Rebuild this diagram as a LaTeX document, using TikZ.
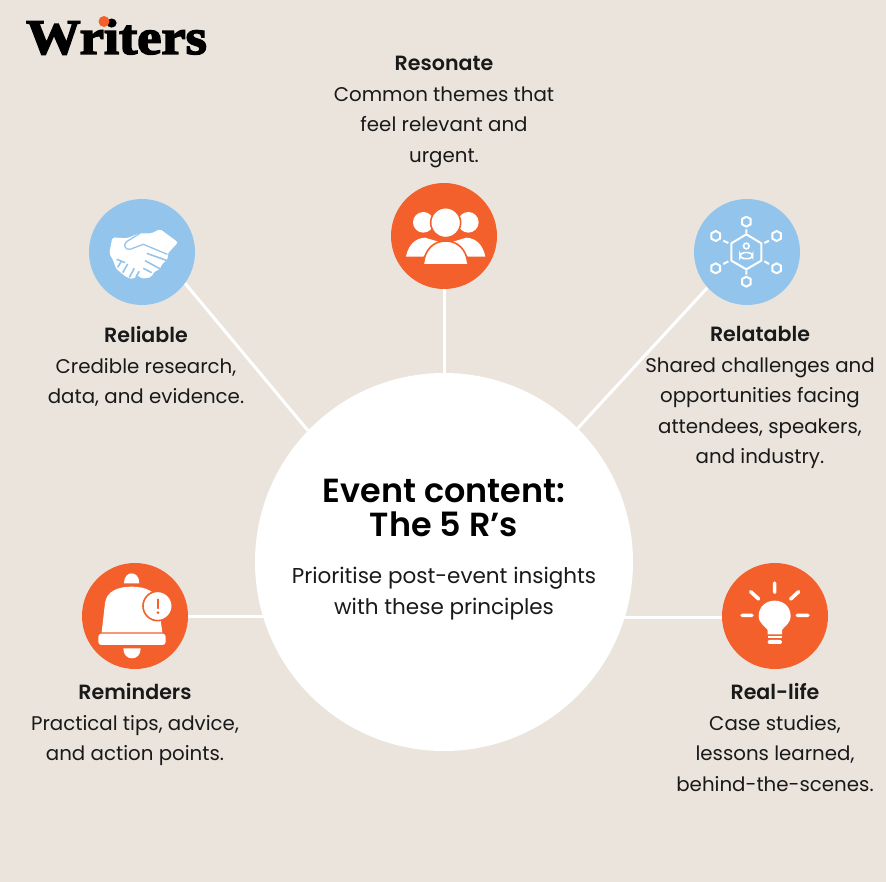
\documentclass[tikz,border=0pt]{standalone}
\usepackage{fontspec}
\setmainfont{Poppins}[BoldFont={Poppins SemiBold}]
\newfontfamily\logofont[FakeBold=3]{Liberation Serif Bold}
\definecolor{bg}{HTML}{EAE4DC}
\definecolor{org}{HTML}{F4602B}
\definecolor{sky}{HTML}{93C5EC}
\pgfdeclarelayer{bgl}
\pgfdeclarelayer{links}
\pgfsetlayers{bgl,links,main}
\newcommand{\hd}[1]{{\fontsize{20.6}{30.5}\selectfont\bfseries #1}}
\tikzset{
 hubnode/.style={circle,fill=white,minimum size=378pt,inner sep=0pt},
 iconorg/.style={circle,fill=org,minimum size=106pt,inner sep=0pt},
 iconsky/.style={circle,fill=sky,minimum size=106pt,inner sep=0pt},
 link/.style={draw=white,line width=3pt},
 body/.style={anchor=north,align=center,font=\fontsize{19.8}{30.5}\selectfont,text=black!90,inner sep=0pt},
 icn/.style={x=0.3333pt,y=-0.3333pt},
}
\begin{document}
\begin{tikzpicture}[x=1pt,y=-1pt]
\begin{pgfonlayer}{bgl}
\fill[bg] (0,0) rectangle (886,882);
\end{pgfonlayer}
\useasboundingbox (0,0) rectangle (886,882);
\node[hubnode] (hub) at (444,562) {};
\node[iconorg] (resonate) at (444,236) {};
\node[iconsky] (reliable) at (142,252) {};
\node[iconsky] (relatable) at (747,252) {};
\node[iconorg] (reminders) at (135,616) {};
\node[iconorg] (reallife) at (775,616) {};
\begin{pgfonlayer}{links}
\draw[link] (resonate) -- (hub);
\draw[link] (reliable.-36) -- (hub.136);
\draw[link] (relatable.-138) -- (hub.45);
\draw[link] (reminders) -- (reminders -| hub);
\draw[link] (reallife.182) -- (reallife.182 -| hub);
\end{pgfonlayer}
% logo
\node[anchor=base west,inner sep=0pt,xscale=1.09,font=\logofont\fontsize{50}{50}\selectfont,text=black] (logo) at (26,54) {Writers};
\fill[org] (104,21.5) circle (5.5);
% people
\begin{scope}[shift={(380,175)},icn]
\fill[white] (78,245) .. controls (85,210) and (105,190) .. (135,188) -- (175,200) -- (130,245) -- cycle;
\fill[white] (316,245) .. controls (309,210) and (289,190) .. (259,188) -- (219,200) -- (264,245) -- cycle;
\fill[white] (130,142) circle (31);
\fill[white] (265,142) circle (31);
\fill[white,draw=org,line width=1.6pt] (128,270) -- (131,262) .. controls (135,225) and (160,198) .. (197,198) .. controls (234,198) and (259,225) .. (263,262) -- (266,270) -- cycle;
\fill[white,draw=org,line width=1.6pt] (197,143) circle (45);
\fill[org] (120,266) rectangle (275,275);
\end{scope}
% handshake
\begin{scope}[shift={(80,190)},icn]
\fill[white,rounded corners=2pt] (97,142) -- (140,145) -- (178,130) -- (215,130) -- (240,117) -- (294,157) -- (262,192) -- (265,205) -- (255,216) -- (245,222) -- (240,238) -- (222,245) -- (214,262) -- (185,266) -- (172,255) -- (160,268) -- (140,262) -- (125,250) -- (108,236) -- (100,212) -- (88,190) -- cycle;
\draw[sky,line width=1.3pt] (180,130) -- (140,155) .. controls (128,165) and (135,180) .. (150,178) -- (190,163) -- (262,193);
\draw[sky,line width=1.6pt] (200,190) -- (262,212);
\draw[sky,line width=1.6pt] (195,212) -- (243,238);
\draw[sky,line width=1.6pt] (190,235) -- (215,248);
\draw[sky,line width=1.6pt] (110,208) -- (135,218);
\draw[sky,line width=1.6pt] (125,212) -- (113,232);
\draw[sky,line width=1.6pt] (143,222) -- (128,248);
\draw[sky,line width=1.6pt] (163,235) -- (148,262);
\draw[sky,line width=1.6pt] (178,244) -- (168,260);
\end{scope}
% network
\begin{scope}[shift={(685,190)},icn]
\draw[white,line width=2pt,line join=round] (184,133) -- (229,160) -- (229,212) -- (184,238) -- (139,212) -- (139,160) -- cycle;
\foreach \cx/\cy in {184/95,92/138,275/138,92/235,275/235,184/275}{
 \draw[white,line width=2pt,line join=round] (\cx,\cy-15) -- (\cx+13,\cy-8) -- (\cx+13,\cy+8) -- (\cx,\cy+15) -- (\cx-13,\cy+8) -- (\cx-13,\cy-8) -- cycle;
}
\draw[white,line width=2pt] (184,118) -- (184,130) (115,152) -- (130,159) (238,159) -- (252,152) (115,222) -- (130,214) (238,214) -- (252,222) (184,241) -- (184,254);
\draw[white,line width=1.6pt] (184,168) circle (8.5);
\draw[white,line width=1.6pt,rounded corners=4pt] (165,206) -- (165,188) -- (203,188) -- (203,206) -- cycle;
\end{scope}
% bell
\begin{scope}[shift={(75,555)},icn]
\fill[white] (147,85) .. controls (147,65) and (158,55) .. (170,55) .. controls (182,55) and (193,65) .. (193,85) -- cycle;
\fill[white] (80,232) -- (90,145) .. controls (94,108) and (130,95) .. (170,95) .. controls (210,95) and (246,108) .. (250,145) -- (262,232) -- cycle;
\fill[white,rounded corners=3pt] (70,236) rectangle (272,270);
\fill[white] (145,280) -- (197,280) .. controls (197,300) and (185,310) .. (171,310) .. controls (157,310) and (145,300) .. (145,280) -- cycle;
\fill[white,draw=org,line width=1.6pt] (248,153) circle (44);
\draw[org,line width=1.6pt,line cap=round] (249,133) -- (249,160);
\fill[org] (249,173) circle (4.5);
\end{scope}
% bulb
\begin{scope}[shift={(712,555)},icn]
\draw[white,line width=3.6pt,line cap=round] (188,84) -- (188,112) (116,110) -- (140,132) (260,110) -- (236,132) (90,181) -- (120,181) (256,181) -- (288,181);
\fill[white] (167,238) -- (167,225) .. controls (160,215) and (140,205) .. (140,183) .. controls (140,155) and (162,137) .. (188,137) .. controls (214,137) and (236,155) .. (236,183) .. controls (236,205) and (216,215) .. (210,225) -- (210,238) -- cycle;
\fill[white] (167,243) rectangle (210,250);
\fill[white,rounded corners=2pt] (167,255) rectangle (210,267);
\end{scope}
% text
\node[body] (t1) at (444,56.2) {\hd{Resonate}\\Common themes that\\feel relevant and\\urgent.};
\node[body] (t2) at (146,326.2) {\hd{Reliable}\\Credible research,\\data, and evidence.};
\node[body] (t3) at (760,326.2) {\hd{Relatable}\\Shared challenges and\\opportunities facing\\attendees, speakers,\\and industry.};
\node[body] (t4) at (135,683.2) {\hd{Reminders}\\Practical tips, advice,\\and action points.};
\node[body] (t5) at (775,683.2) {\hd{Real-life}\\Case studies,\\lessons learned,\\behind-the-scenes.};
\node[anchor=north,align=center,inner sep=0pt,font=\fontsize{33.4}{34}\selectfont\bfseries,text=black] (title) at (444,479) {Event content:\\The 5 R’s};
\node[body,font=\fontsize{21.5}{30.5}\selectfont] (sub) at (444,567) {Prioritise post-event insights\\with these principles};
\end{tikzpicture}
\end{document}
